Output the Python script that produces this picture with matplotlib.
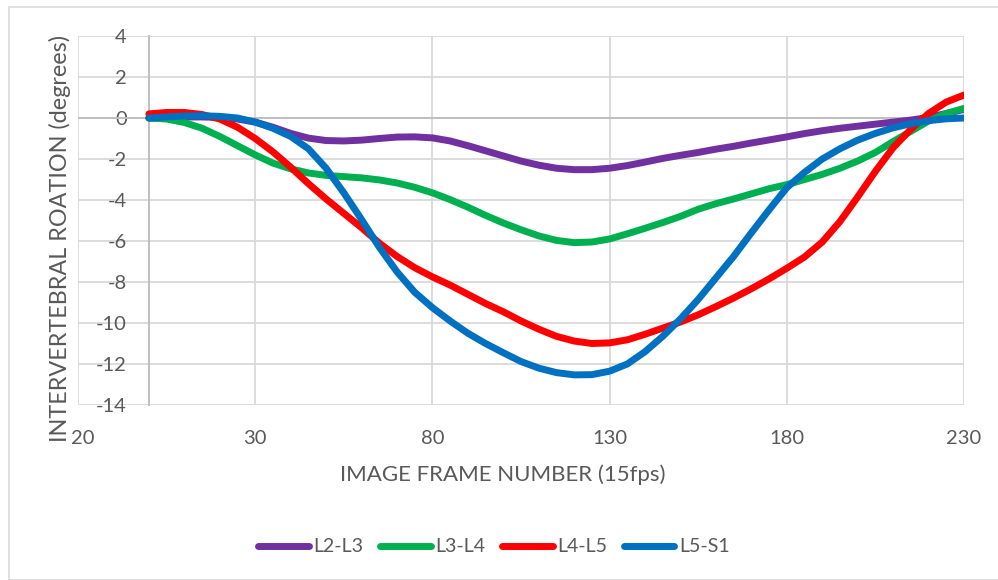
import matplotlib
matplotlib.use("Agg")
import matplotlib.pyplot as plt
from matplotlib.patches import Rectangle
from matplotlib.transforms import ScaledTranslation

plt.rcParams['font.family'] = ['Lato', 'DejaVu Sans']

frames = list(range(0, 235, 5))

l2_l3 = [0.0, 0.03, 0.05, 0.05, 0.03, -0.05, -0.2, -0.45, -0.75, -0.98,
         -1.1, -1.12, -1.08, -1.0, -0.93, -0.92, -0.97, -1.12, -1.35, -1.6,
         -1.85, -2.1, -2.3, -2.45, -2.52, -2.52, -2.45, -2.32, -2.15, -1.97,
         -1.82, -1.68, -1.52, -1.38, -1.22, -1.07, -0.92, -0.76, -0.62, -0.5,
         -0.4, -0.3, -0.2, -0.1, 0.03, 0.22, 0.42]

l3_l4 = [0.0, -0.05, -0.22, -0.5, -0.9, -1.35, -1.8, -2.2, -2.48, -2.68,
         -2.8, -2.86, -2.92, -3.02, -3.17, -3.38, -3.65, -3.98, -4.35, -4.75,
         -5.12, -5.45, -5.75, -5.97, -6.08, -6.05, -5.9, -5.65, -5.38, -5.1,
         -4.8, -4.45, -4.18, -3.95, -3.7, -3.45, -3.25, -3.0, -2.75, -2.45,
         -2.1, -1.68, -1.15, -0.65, -0.15, 0.22, 0.47]

l4_l5 = [0.2, 0.27, 0.27, 0.17, -0.05, -0.45, -1.0, -1.65, -2.4, -3.2,
         -3.95, -4.65, -5.35, -6.1, -6.75, -7.3, -7.75, -8.15, -8.6, -9.05,
         -9.45, -9.9, -10.3, -10.65, -10.88, -11.0, -10.97, -10.82, -10.55, -10.25,
         -9.95, -9.6, -9.2, -8.78, -8.33, -7.85, -7.33, -6.78, -6.05, -5.05,
         -3.85, -2.6, -1.45, -0.55, 0.22, 0.78, 1.12]

l5_s1 = [0.0, 0.05, 0.1, 0.11, 0.08, 0.0, -0.2, -0.5, -0.9, -1.5,
         -2.45, -3.65, -4.95, -6.3, -7.5, -8.5, -9.25, -9.9, -10.5, -11.0,
         -11.45, -11.88, -12.2, -12.42, -12.53, -12.52, -12.35, -12.0, -11.4, -10.65,
         -9.8, -8.85, -7.8, -6.75, -5.6, -4.48, -3.4, -2.65, -2.0, -1.5,
         -1.08, -0.75, -0.48, -0.28, -0.13, -0.04, 0.0]

series_names = ["L2-L3", "L3-L4", "L4-L5", "L5-S1"]
series_values = [l2_l3, l3_l4, l4_l5, l5_s1]
series_colors = ["#7030A0", "#00B050", "#FF0000", "#0070C0"]

x_ticks = [-20, 30, 80, 130, 180, 230]
x_tick_labels = ["20", "30", "80", "130", "180", "230"]
y_ticks = [4, 2, 0, -2, -4, -6, -8, -10, -12, -14]
y_tick_labels = ["4", "2", "0", "-2", "-4", "-6", "-8", "-10", "-12", "-14"]

W, H = 998, 580
fig = plt.figure(figsize=(W / 100, H / 100), dpi=100)
fig.patch.set_facecolor("white")

# chart area border
fig.patches.append(Rectangle((9 / W, 0), 1.2, 1 - 7 / H, transform=fig.transFigure,
                             fill=False, edgecolor="#D9D9D9", linewidth=1.2))

ax = fig.add_axes([78 / W, 1 - 405 / H, (964 - 78) / W, (405 - 36) / H])
ax.set_xlim(-20, 230)
ax.set_ylim(-14, 4)

grid_c = "#D9D9D9"
axis_c = "#BFBFBF"
txt_c = "#595959"

ax.set_xticks(x_ticks)
ax.set_xticklabels(x_tick_labels)
ax.set_yticks(y_ticks)
ax.set_yticklabels(y_tick_labels)
ax.grid(True, color=grid_c, linewidth=1.3, zorder=0)
ax.set_axisbelow(True)

for s in ["top", "right", "bottom"]:
    ax.spines[s].set_visible(False)
ax.spines["left"].set_position(("data", 0))
ax.spines["left"].set_color(axis_c)
ax.spines["left"].set_linewidth(1.4)
ax.axhline(0, color=axis_c, linewidth=1.4, zorder=1)

ax.tick_params(axis="y", length=0, pad=16, labelsize=14.5, labelcolor=txt_c)
ax.tick_params(axis="x", length=0, pad=18, labelsize=14.5, labelcolor=txt_c)

# the first x label sits just right of the axis title, as in the reference
first = ax.get_xticklabels()[0]
first.set_transform(first.get_transform() + ScaledTranslation(4.5 / 100, 0, fig.dpi_scale_trans))

handles = []
for name, vals, col in zip(series_names, series_values, series_colors):
    h, = ax.plot(frames, vals, color=col, linewidth=5, label=name,
                 solid_capstyle="round", solid_joinstyle="round", zorder=3)
    handles.append(h)

for sp in ax.spines.values():
    sp.set_zorder(2)

fig.text(60 / W, 1 - 239 / H, "INTERVERTEBRAL ROATION (degrees)", rotation=90,
         ha="center", va="center", fontsize=16.8, color=txt_c, zorder=10)
fig.text(503 / W, 1 - 475 / H, "IMAGE FRAME NUMBER (15fps)", ha="center", va="center",
         fontsize=16, color=txt_c)

leg = fig.legend(handles=handles, loc="center", bbox_to_anchor=(494 / W, 1 - 547 / H),
                 ncol=4, frameon=False, fontsize=14, handlelength=2.6,
                 handletextpad=0.25, columnspacing=0.85, labelcolor=txt_c)

fig.savefig("out.png", dpi=100, facecolor="white")
